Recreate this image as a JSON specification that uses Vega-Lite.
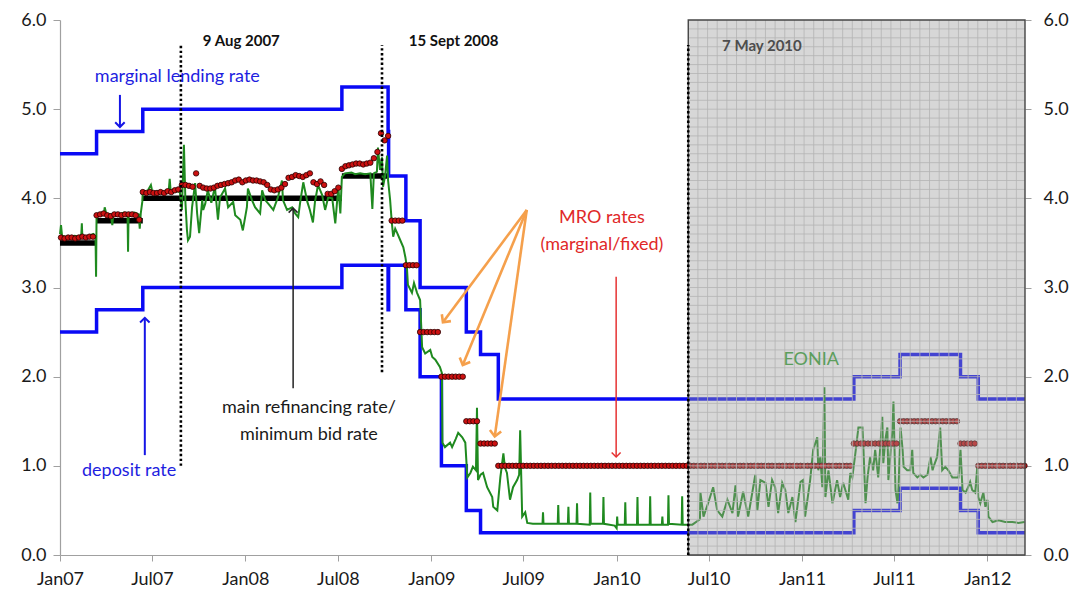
{
"$schema":"https://vega.github.io/schema/vega-lite/v6.json",
"width":965,"height":535,
"autosize":{"type":"none"},
"padding":{"left":60,"top":20,"right":55,"bottom":37},
"background":"white",
"config":{"font":"Lato","view":{"stroke":null},"axis":{"labelFont":"Lato","grid":false}},
"datasets":{
"mroline":[{"s":"2007-01-01","e":"2007-03-14","r":3.5},{"s":"2007-03-14","e":"2007-06-13","r":3.75},{"s":"2007-06-13","e":"2008-07-09","r":4.0},{"s":"2008-07-09","e":"2008-10-08","r":4.25}],
"rates":[
{"s":"mlf","d":"2007-01-01","v":4.5},{"s":"mlf","d":"2007-03-14","v":4.75},{"s":"mlf","d":"2007-06-13","v":5.0},{"s":"mlf","d":"2008-07-09","v":5.25},{"s":"mlf","d":"2008-10-08","v":4.75},{"s":"mlf","d":"2008-10-09","v":4.25},{"s":"mlf","d":"2008-11-12","v":3.75},{"s":"mlf","d":"2008-12-10","v":3.0},{"s":"mlf","d":"2009-03-11","v":2.5},{"s":"mlf","d":"2009-04-08","v":2.25},{"s":"mlf","d":"2009-05-13","v":1.75},{"s":"mlf","d":"2011-04-13","v":2.0},{"s":"mlf","d":"2011-07-13","v":2.25},{"s":"mlf","d":"2011-11-09","v":2.0},{"s":"mlf","d":"2011-12-14","v":1.75},{"s":"mlf","d":"2012-03-15","v":1.75},
{"s":"df","d":"2007-01-01","v":2.5},{"s":"df","d":"2007-03-14","v":2.75},{"s":"df","d":"2007-06-13","v":3.0},{"s":"df","d":"2008-07-09","v":3.25},{"s":"df","d":"2008-10-08","v":2.75},{"s":"df","d":"2008-10-09","v":3.25},{"s":"df","d":"2008-11-12","v":2.75},{"s":"df","d":"2008-12-10","v":2.0},{"s":"df","d":"2009-01-21","v":1.0},{"s":"df","d":"2009-03-11","v":0.5},{"s":"df","d":"2009-04-08","v":0.25},{"s":"df","d":"2011-04-13","v":0.5},{"s":"df","d":"2011-07-13","v":0.75},{"s":"df","d":"2011-11-09","v":0.5},{"s":"df","d":"2011-12-14","v":0.25},{"s":"df","d":"2012-03-15","v":0.25}],
"eonia":[
{"d":"2007-01-01","v":3.6},{"d":"2007-01-03","v":3.7},{"d":"2007-01-05","v":3.58},{"d":"2007-01-15","v":3.56},{"d":"2007-01-30","v":3.58},{"d":"2007-02-08","v":3.57},{"d":"2007-02-12","v":3.6},{"d":"2007-02-13","v":3.72},{"d":"2007-02-14","v":3.57},{"d":"2007-02-26","v":3.58},{"d":"2007-03-08","v":3.6},{"d":"2007-03-12","v":3.55},{"d":"2007-03-13","v":3.12},{"d":"2007-03-14","v":3.82},{"d":"2007-03-22","v":3.83},{"d":"2007-03-29","v":3.85},{"d":"2007-03-30","v":3.9},{"d":"2007-04-02","v":3.83},{"d":"2007-04-11","v":3.82},{"d":"2007-04-14","v":3.7},{"d":"2007-04-16","v":3.83},{"d":"2007-04-26","v":3.82},{"d":"2007-05-07","v":3.84},{"d":"2007-05-14","v":3.82},{"d":"2007-05-15","v":3.4},{"d":"2007-05-16","v":3.83},{"d":"2007-05-28","v":3.84},{"d":"2007-06-05","v":3.82},{"d":"2007-06-07","v":3.66},{"d":"2007-06-09","v":3.83},{"d":"2007-06-12","v":3.96},{"d":"2007-06-13","v":4.07},{"d":"2007-06-22","v":4.08},{"d":"2007-06-29","v":4.15},{"d":"2007-07-02","v":4.07},{"d":"2007-07-15","v":4.08},{"d":"2007-07-25","v":4.07},{"d":"2007-08-03","v":4.08},{"d":"2007-08-05","v":4.22},{"d":"2007-08-07","v":4.07},{"d":"2007-08-20","v":4.08},{"d":"2007-08-25","v":4.07},{"d":"2007-08-29","v":3.87},{"d":"2007-09-02","v":4.6},{"d":"2007-09-05","v":3.95},{"d":"2007-09-08","v":3.64},{"d":"2007-09-10","v":3.53},{"d":"2007-09-14","v":3.57},{"d":"2007-09-18","v":3.9},{"d":"2007-09-24","v":4.17},{"d":"2007-09-28","v":3.83},{"d":"2007-10-02","v":3.61},{"d":"2007-10-08","v":3.98},{"d":"2007-10-10","v":3.87},{"d":"2007-10-14","v":3.94},{"d":"2007-10-19","v":4.09},{"d":"2007-10-26","v":3.95},{"d":"2007-11-02","v":4.13},{"d":"2007-11-08","v":3.76},{"d":"2007-11-12","v":4.01},{"d":"2007-11-22","v":4.11},{"d":"2007-11-28","v":3.9},{"d":"2007-12-08","v":3.96},{"d":"2007-12-12","v":3.81},{"d":"2007-12-22","v":3.76},{"d":"2007-12-27","v":3.64},{"d":"2008-01-04","v":3.9},{"d":"2008-01-06","v":4.11},{"d":"2008-01-14","v":3.98},{"d":"2008-01-20","v":3.9},{"d":"2008-01-30","v":3.83},{"d":"2008-02-03","v":4.09},{"d":"2008-02-09","v":3.98},{"d":"2008-02-15","v":3.94},{"d":"2008-02-25","v":3.87},{"d":"2008-03-05","v":4.01},{"d":"2008-03-13","v":4.2},{"d":"2008-03-15","v":3.98},{"d":"2008-03-23","v":3.87},{"d":"2008-04-02","v":3.9},{"d":"2008-04-08","v":3.83},{"d":"2008-04-14","v":3.79},{"d":"2008-04-18","v":3.96},{"d":"2008-04-24","v":4.18},{"d":"2008-05-02","v":3.96},{"d":"2008-05-07","v":3.87},{"d":"2008-05-13","v":3.73},{"d":"2008-05-17","v":3.96},{"d":"2008-05-23","v":4.15},{"d":"2008-05-31","v":4.04},{"d":"2008-06-06","v":3.87},{"d":"2008-06-12","v":4.01},{"d":"2008-06-20","v":4.0},{"d":"2008-06-26","v":3.72},{"d":"2008-07-02","v":4.13},{"d":"2008-07-06","v":3.83},{"d":"2008-07-09","v":4.24},{"d":"2008-07-15","v":4.28},{"d":"2008-07-28","v":4.29},{"d":"2008-08-04","v":4.27},{"d":"2008-08-14","v":4.28},{"d":"2008-08-24","v":4.27},{"d":"2008-09-03","v":4.28},{"d":"2008-09-07","v":3.88},{"d":"2008-09-10","v":4.28},{"d":"2008-09-16","v":4.3},{"d":"2008-09-18","v":4.57},{"d":"2008-09-22","v":4.32},{"d":"2008-09-26","v":4.46},{"d":"2008-09-28","v":4.13},{"d":"2008-10-02","v":4.25},{"d":"2008-10-06","v":4.48},{"d":"2008-10-08","v":4.2},{"d":"2008-10-12","v":3.98},{"d":"2008-10-15","v":3.75},{"d":"2008-10-18","v":3.57},{"d":"2008-10-22","v":3.66},{"d":"2008-10-26","v":3.61},{"d":"2008-11-01","v":3.53},{"d":"2008-11-07","v":3.45},{"d":"2008-11-11","v":3.34},{"d":"2008-11-14","v":3.23},{"d":"2008-11-16","v":3.03},{"d":"2008-11-24","v":2.94},{"d":"2008-11-28","v":3.05},{"d":"2008-12-04","v":2.94},{"d":"2008-12-10","v":2.86},{"d":"2008-12-14","v":2.33},{"d":"2008-12-20","v":2.26},{"d":"2008-12-30","v":2.3},{"d":"2009-01-03","v":2.22},{"d":"2009-01-09","v":2.19},{"d":"2009-01-18","v":2.11},{"d":"2009-01-22","v":2.04},{"d":"2009-01-23","v":1.26},{"d":"2009-01-28","v":1.21},{"d":"2009-02-07","v":1.26},{"d":"2009-02-11","v":1.21},{"d":"2009-02-18","v":1.3},{"d":"2009-02-23","v":1.37},{"d":"2009-03-03","v":1.32},{"d":"2009-03-09","v":1.26},{"d":"2009-03-13","v":0.87},{"d":"2009-03-19","v":0.92},{"d":"2009-03-24","v":0.99},{"d":"2009-03-30","v":0.95},{"d":"2009-04-01","v":1.65},{"d":"2009-04-03","v":0.84},{"d":"2009-04-08","v":0.9},{"d":"2009-04-13","v":0.92},{"d":"2009-04-21","v":0.76},{"d":"2009-05-01","v":0.65},{"d":"2009-05-03","v":0.54},{"d":"2009-05-11","v":0.5},{"d":"2009-05-17","v":0.87},{"d":"2009-05-23","v":1.14},{"d":"2009-05-26","v":0.98},{"d":"2009-05-30","v":0.92},{"d":"2009-06-05","v":0.62},{"d":"2009-06-11","v":0.76},{"d":"2009-06-19","v":0.84},{"d":"2009-06-23","v":0.9},{"d":"2009-06-25","v":1.4},{"d":"2009-06-29","v":0.43},{"d":"2009-07-05","v":0.48},{"d":"2009-07-09","v":0.36},{"d":"2009-07-20","v":0.35},{"d":"2009-08-08","v":0.35},{"d":"2009-08-09","v":0.48},{"d":"2009-08-10","v":0.35},{"d":"2009-09-07","v":0.35},{"d":"2009-09-08","v":0.56},{"d":"2009-09-09","v":0.35},{"d":"2009-09-27","v":0.35},{"d":"2009-09-28","v":0.54},{"d":"2009-09-29","v":0.35},{"d":"2009-10-14","v":0.35},{"d":"2009-10-15","v":0.58},{"d":"2009-10-16","v":0.35},{"d":"2009-11-09","v":0.34},{"d":"2009-11-10","v":0.7},{"d":"2009-11-11","v":0.35},{"d":"2009-12-05","v":0.35},{"d":"2009-12-06","v":0.65},{"d":"2009-12-07","v":0.35},{"d":"2009-12-28","v":0.33},{"d":"2010-01-01","v":0.3},{"d":"2010-01-02","v":0.43},{"d":"2010-01-03","v":0.34},{"d":"2010-01-17","v":0.34},{"d":"2010-01-18","v":0.59},{"d":"2010-01-19","v":0.34},{"d":"2010-02-10","v":0.34},{"d":"2010-02-11","v":0.65},{"d":"2010-02-12","v":0.34},{"d":"2010-03-07","v":0.34},{"d":"2010-03-08","v":0.66},{"d":"2010-03-09","v":0.34},{"d":"2010-03-31","v":0.34},{"d":"2010-04-01","v":0.43},{"d":"2010-04-02","v":0.34},{"d":"2010-04-12","v":0.34},{"d":"2010-04-13","v":0.67},{"d":"2010-04-14","v":0.35},{"d":"2010-05-09","v":0.34},{"d":"2010-05-10","v":0.66},{"d":"2010-05-11","v":0.34},{"d":"2010-05-30","v":0.34},{"d":"2010-06-14","v":0.4},{"d":"2010-06-15","v":0.7},{"d":"2010-06-21","v":0.43},{"d":"2010-06-30","v":0.58},{"d":"2010-07-10","v":0.76},{"d":"2010-07-18","v":0.5},{"d":"2010-07-28","v":0.43},{"d":"2010-08-07","v":0.62},{"d":"2010-08-17","v":0.47},{"d":"2010-08-23","v":0.78},{"d":"2010-08-28","v":0.43},{"d":"2010-09-07","v":0.71},{"d":"2010-09-17","v":0.43},{"d":"2010-10-01","v":0.9},{"d":"2010-10-05","v":0.5},{"d":"2010-10-11","v":0.84},{"d":"2010-10-21","v":0.81},{"d":"2010-10-27","v":0.54},{"d":"2010-11-03","v":0.84},{"d":"2010-11-09","v":0.76},{"d":"2010-11-15","v":0.47},{"d":"2010-11-23","v":0.81},{"d":"2010-11-29","v":0.73},{"d":"2010-12-05","v":0.47},{"d":"2010-12-13","v":0.65},{"d":"2010-12-19","v":0.37},{"d":"2010-12-29","v":0.82},{"d":"2011-01-03","v":0.84},{"d":"2011-01-07","v":0.43},{"d":"2011-01-17","v":0.84},{"d":"2011-01-23","v":1.18},{"d":"2011-01-31","v":1.32},{"d":"2011-02-02","v":0.95},{"d":"2011-02-06","v":1.1},{"d":"2011-02-10","v":0.76},{"d":"2011-02-14","v":1.88},{"d":"2011-02-16","v":0.65},{"d":"2011-02-22","v":0.95},{"d":"2011-03-02","v":0.58},{"d":"2011-03-11","v":0.84},{"d":"2011-03-17","v":0.65},{"d":"2011-03-23","v":0.81},{"d":"2011-04-02","v":0.62},{"d":"2011-04-06","v":0.92},{"d":"2011-04-10","v":0.87},{"d":"2011-04-16","v":1.14},{"d":"2011-04-22","v":1.43},{"d":"2011-04-30","v":1.43},{"d":"2011-05-02","v":1.18},{"d":"2011-05-06","v":0.58},{"d":"2011-05-10","v":0.87},{"d":"2011-05-15","v":1.1},{"d":"2011-05-21","v":0.95},{"d":"2011-05-25","v":1.18},{"d":"2011-05-31","v":0.87},{"d":"2011-06-08","v":1.55},{"d":"2011-06-10","v":1.03},{"d":"2011-06-14","v":1.29},{"d":"2011-06-18","v":1.43},{"d":"2011-06-20","v":0.84},{"d":"2011-06-28","v":1.4},{"d":"2011-06-30","v":1.72},{"d":"2011-07-04","v":0.73},{"d":"2011-07-08","v":0.58},{"d":"2011-07-10","v":0.76},{"d":"2011-07-14","v":1.43},{"d":"2011-07-18","v":1.18},{"d":"2011-07-20","v":0.99},{"d":"2011-07-27","v":0.95},{"d":"2011-08-02","v":0.95},{"d":"2011-08-06","v":1.18},{"d":"2011-08-08","v":0.92},{"d":"2011-08-16","v":0.87},{"d":"2011-08-22","v":0.9},{"d":"2011-08-28","v":0.87},{"d":"2011-09-05","v":0.9},{"d":"2011-09-11","v":1.1},{"d":"2011-09-15","v":0.95},{"d":"2011-09-17","v":0.99},{"d":"2011-09-24","v":1.1},{"d":"2011-09-30","v":1.43},{"d":"2011-10-04","v":0.95},{"d":"2011-10-10","v":0.99},{"d":"2011-10-16","v":0.95},{"d":"2011-10-24","v":0.87},{"d":"2011-10-30","v":0.87},{"d":"2011-11-05","v":0.87},{"d":"2011-11-09","v":1.18},{"d":"2011-11-13","v":0.73},{"d":"2011-11-19","v":0.7},{"d":"2011-11-24","v":0.76},{"d":"2011-11-28","v":0.82},{"d":"2011-12-02","v":0.73},{"d":"2011-12-08","v":0.7},{"d":"2011-12-12","v":0.99},{"d":"2011-12-14","v":0.65},{"d":"2011-12-18","v":0.58},{"d":"2011-12-24","v":0.7},{"d":"2011-12-28","v":0.54},{"d":"2012-01-01","v":0.62},{"d":"2012-01-03","v":0.43},{"d":"2012-01-11","v":0.37},{"d":"2012-01-23","v":0.39},{"d":"2012-02-05","v":0.37},{"d":"2012-02-19","v":0.37},{"d":"2012-03-02","v":0.36},{"d":"2012-03-14","v":0.37}],
"mro":[
{"d":"2007-01-03","r":3.56},{"d":"2007-01-10","r":3.55},{"d":"2007-01-17","r":3.56},{"d":"2007-01-24","r":3.56},{"d":"2007-01-31","r":3.55},{"d":"2007-02-07","r":3.56},{"d":"2007-02-14","r":3.57},{"d":"2007-02-21","r":3.56},{"d":"2007-02-28","r":3.57},{"d":"2007-03-07","r":3.57},{"d":"2007-03-14","r":3.81},{"d":"2007-03-21","r":3.82},{"d":"2007-03-28","r":3.83},{"d":"2007-04-04","r":3.81},{"d":"2007-04-11","r":3.8},{"d":"2007-04-18","r":3.82},{"d":"2007-04-25","r":3.82},{"d":"2007-05-02","r":3.81},{"d":"2007-05-09","r":3.82},{"d":"2007-05-16","r":3.82},{"d":"2007-05-23","r":3.82},{"d":"2007-05-30","r":3.81},{"d":"2007-06-06","r":3.76},{"d":"2007-06-13","r":4.07},{"d":"2007-06-20","r":4.06},{"d":"2007-06-27","r":4.07},{"d":"2007-07-04","r":4.06},{"d":"2007-07-11","r":4.06},{"d":"2007-07-18","r":4.07},{"d":"2007-07-25","r":4.06},{"d":"2007-08-01","r":4.08},{"d":"2007-08-08","r":4.07},{"d":"2007-08-15","r":4.09},{"d":"2007-08-22","r":4.1},{"d":"2007-08-29","r":4.15},{"d":"2007-09-05","r":4.15},{"d":"2007-09-12","r":4.14},{"d":"2007-09-19","r":4.13},{"d":"2007-09-26","r":4.28},{"d":"2007-10-03","r":4.14},{"d":"2007-10-10","r":4.12},{"d":"2007-10-17","r":4.11},{"d":"2007-10-24","r":4.11},{"d":"2007-10-31","r":4.12},{"d":"2007-11-07","r":4.14},{"d":"2007-11-14","r":4.15},{"d":"2007-11-21","r":4.16},{"d":"2007-11-28","r":4.17},{"d":"2007-12-05","r":4.18},{"d":"2007-12-12","r":4.2},{"d":"2007-12-19","r":4.21},{"d":"2007-12-26","r":4.18},
{"d":"2008-01-02","r":4.2},{"d":"2008-01-09","r":4.21},{"d":"2008-01-16","r":4.2},{"d":"2008-01-23","r":4.2},{"d":"2008-01-30","r":4.19},{"d":"2008-02-06","r":4.18},{"d":"2008-02-13","r":4.15},{"d":"2008-02-20","r":4.1},{"d":"2008-02-27","r":4.09},{"d":"2008-03-05","r":4.1},{"d":"2008-03-12","r":4.12},{"d":"2008-03-19","r":4.16},{"d":"2008-03-26","r":4.23},{"d":"2008-04-02","r":4.24},{"d":"2008-04-09","r":4.26},{"d":"2008-04-16","r":4.25},{"d":"2008-04-23","r":4.24},{"d":"2008-04-30","r":4.26},{"d":"2008-05-07","r":4.28},{"d":"2008-05-14","r":4.18},{"d":"2008-05-21","r":4.16},{"d":"2008-05-28","r":4.19},{"d":"2008-06-04","r":4.15},{"d":"2008-06-11","r":4.05},{"d":"2008-06-18","r":4.05},{"d":"2008-06-25","r":4.08},{"d":"2008-07-02","r":4.12},{"d":"2008-07-09","r":4.33},{"d":"2008-07-16","r":4.36},{"d":"2008-07-23","r":4.37},{"d":"2008-07-30","r":4.38},{"d":"2008-08-06","r":4.39},{"d":"2008-08-13","r":4.39},{"d":"2008-08-20","r":4.38},{"d":"2008-08-27","r":4.39},{"d":"2008-09-03","r":4.4},{"d":"2008-09-10","r":4.45},{"d":"2008-09-17","r":4.52},{"d":"2008-09-24","r":4.73},{"d":"2008-10-01","r":4.65},{"d":"2008-10-08","r":4.7},{"d":"2008-10-15","r":3.75},{"d":"2008-10-22","r":3.75},{"d":"2008-10-29","r":3.75},{"d":"2008-11-05","r":3.75},{"d":"2008-11-12","r":3.25},{"d":"2008-11-19","r":3.25},{"d":"2008-11-26","r":3.25},{"d":"2008-12-03","r":3.25},{"d":"2008-12-10","r":2.5},{"d":"2008-12-17","r":2.5},{"d":"2008-12-24","r":2.5},{"d":"2008-12-31","r":2.5},
{"d":"2009-01-07","r":2.5},{"d":"2009-01-14","r":2.5},{"d":"2009-01-21","r":2.0},{"d":"2009-01-28","r":2.0},{"d":"2009-02-04","r":2.0},{"d":"2009-02-11","r":2.0},{"d":"2009-02-18","r":2.0},{"d":"2009-02-25","r":2.0},{"d":"2009-03-04","r":2.0},{"d":"2009-03-11","r":1.5},{"d":"2009-03-18","r":1.5},{"d":"2009-03-25","r":1.5},{"d":"2009-04-01","r":1.5},{"d":"2009-04-08","r":1.25},{"d":"2009-04-15","r":1.25},{"d":"2009-04-22","r":1.25},{"d":"2009-04-29","r":1.25},{"d":"2009-05-06","r":1.25},{"d":"2009-05-13","r":1},{"d":"2009-05-20","r":1},{"d":"2009-05-27","r":1},{"d":"2009-06-03","r":1},{"d":"2009-06-10","r":1},{"d":"2009-06-17","r":1},{"d":"2009-06-24","r":1},{"d":"2009-07-01","r":1},{"d":"2009-07-08","r":1},{"d":"2009-07-15","r":1},{"d":"2009-07-22","r":1},{"d":"2009-07-29","r":1},{"d":"2009-08-05","r":1},{"d":"2009-08-12","r":1},{"d":"2009-08-19","r":1},{"d":"2009-08-26","r":1},{"d":"2009-09-02","r":1},{"d":"2009-09-09","r":1},{"d":"2009-09-16","r":1},{"d":"2009-09-23","r":1},{"d":"2009-09-30","r":1},{"d":"2009-10-07","r":1},{"d":"2009-10-14","r":1},{"d":"2009-10-21","r":1},{"d":"2009-10-28","r":1},{"d":"2009-11-04","r":1},{"d":"2009-11-11","r":1},{"d":"2009-11-18","r":1},{"d":"2009-11-25","r":1},{"d":"2009-12-02","r":1},{"d":"2009-12-09","r":1},{"d":"2009-12-16","r":1},{"d":"2009-12-23","r":1},{"d":"2009-12-30","r":1},
{"d":"2010-01-06","r":1},{"d":"2010-01-13","r":1},{"d":"2010-01-20","r":1},{"d":"2010-01-27","r":1},{"d":"2010-02-03","r":1},{"d":"2010-02-10","r":1},{"d":"2010-02-17","r":1},{"d":"2010-02-24","r":1},{"d":"2010-03-03","r":1},{"d":"2010-03-10","r":1},{"d":"2010-03-17","r":1},{"d":"2010-03-24","r":1},{"d":"2010-03-31","r":1},{"d":"2010-04-07","r":1},{"d":"2010-04-14","r":1},{"d":"2010-04-21","r":1},{"d":"2010-04-28","r":1},{"d":"2010-05-05","r":1},{"d":"2010-05-12","r":1},{"d":"2010-05-19","r":1},{"d":"2010-05-26","r":1},{"d":"2010-06-02","r":1},{"d":"2010-06-09","r":1},{"d":"2010-06-16","r":1},{"d":"2010-06-23","r":1},{"d":"2010-06-30","r":1},{"d":"2010-07-07","r":1},{"d":"2010-07-14","r":1},{"d":"2010-07-21","r":1},{"d":"2010-07-28","r":1},{"d":"2010-08-04","r":1},{"d":"2010-08-11","r":1},{"d":"2010-08-18","r":1},{"d":"2010-08-25","r":1},{"d":"2010-09-01","r":1},{"d":"2010-09-08","r":1},{"d":"2010-09-15","r":1},{"d":"2010-09-22","r":1},{"d":"2010-09-29","r":1},{"d":"2010-10-06","r":1},{"d":"2010-10-13","r":1},{"d":"2010-10-20","r":1},{"d":"2010-10-27","r":1},{"d":"2010-11-03","r":1},{"d":"2010-11-10","r":1},{"d":"2010-11-17","r":1},{"d":"2010-11-24","r":1},{"d":"2010-12-01","r":1},{"d":"2010-12-08","r":1},{"d":"2010-12-15","r":1},{"d":"2010-12-22","r":1},{"d":"2010-12-29","r":1},
{"d":"2011-01-05","r":1},{"d":"2011-01-12","r":1},{"d":"2011-01-19","r":1},{"d":"2011-01-26","r":1},{"d":"2011-02-02","r":1},{"d":"2011-02-09","r":1},{"d":"2011-02-16","r":1},{"d":"2011-02-23","r":1},{"d":"2011-03-02","r":1},{"d":"2011-03-09","r":1},{"d":"2011-03-16","r":1},{"d":"2011-03-23","r":1},{"d":"2011-03-30","r":1},{"d":"2011-04-06","r":1},{"d":"2011-04-13","r":1.25},{"d":"2011-04-20","r":1.25},{"d":"2011-04-27","r":1.25},{"d":"2011-05-04","r":1.25},{"d":"2011-05-11","r":1.25},{"d":"2011-05-18","r":1.25},{"d":"2011-05-25","r":1.25},{"d":"2011-06-01","r":1.25},{"d":"2011-06-08","r":1.25},{"d":"2011-06-15","r":1.25},{"d":"2011-06-22","r":1.25},{"d":"2011-06-29","r":1.25},{"d":"2011-07-06","r":1.25},{"d":"2011-07-13","r":1.5},{"d":"2011-07-20","r":1.5},{"d":"2011-07-27","r":1.5},{"d":"2011-08-03","r":1.5},{"d":"2011-08-10","r":1.5},{"d":"2011-08-17","r":1.5},{"d":"2011-08-24","r":1.5},{"d":"2011-08-31","r":1.5},{"d":"2011-09-07","r":1.5},{"d":"2011-09-14","r":1.5},{"d":"2011-09-21","r":1.5},{"d":"2011-09-28","r":1.5},{"d":"2011-10-05","r":1.5},{"d":"2011-10-12","r":1.5},{"d":"2011-10-19","r":1.5},{"d":"2011-10-26","r":1.5},{"d":"2011-11-02","r":1.5},{"d":"2011-11-09","r":1.25},{"d":"2011-11-16","r":1.25},{"d":"2011-11-23","r":1.25},{"d":"2011-11-30","r":1.25},{"d":"2011-12-07","r":1.25},{"d":"2011-12-14","r":1},{"d":"2011-12-21","r":1},{"d":"2011-12-28","r":1},{"d":"2012-01-04","r":1},{"d":"2012-01-11","r":1},{"d":"2012-01-18","r":1},{"d":"2012-01-25","r":1},{"d":"2012-02-01","r":1},{"d":"2012-02-08","r":1},{"d":"2012-02-15","r":1},{"d":"2012-02-22","r":1},{"d":"2012-02-29","r":1},{"d":"2012-03-07","r":1},{"d":"2012-03-14","r":1}],
"shade":[{"s":"2010-05-22","e":"2012-03-15"}],
"gridv":[{"d":"2010-06-10"},{"d":"2010-06-29"},{"d":"2010-07-18"},{"d":"2010-08-06"},{"d":"2010-08-25"},{"d":"2010-09-13"},{"d":"2010-10-02"},{"d":"2010-10-21"},{"d":"2010-11-09"},{"d":"2010-11-28"},{"d":"2010-12-17"},{"d":"2011-01-05"},{"d":"2011-01-24"},{"d":"2011-02-12"},{"d":"2011-03-03"},{"d":"2011-03-22"},{"d":"2011-04-10"},{"d":"2011-04-29"},{"d":"2011-05-18"},{"d":"2011-06-06"},{"d":"2011-06-25"},{"d":"2011-07-14"},{"d":"2011-08-02"},{"d":"2011-08-21"},{"d":"2011-09-09"},{"d":"2011-09-28"},{"d":"2011-10-17"},{"d":"2011-11-05"},{"d":"2011-11-24"},{"d":"2011-12-13"},{"d":"2012-01-01"},{"d":"2012-01-20"},{"d":"2012-02-08"},{"d":"2012-02-27"}],
"gridh":[{"v":0.1},{"v":0.2},{"v":0.3},{"v":0.4},{"v":0.5},{"v":0.6},{"v":0.7},{"v":0.8},{"v":0.9},{"v":1.0},{"v":1.1},{"v":1.2},{"v":1.3},{"v":1.4},{"v":1.5},{"v":1.6},{"v":1.7},{"v":1.8},{"v":1.9},{"v":2.0},{"v":2.1},{"v":2.2},{"v":2.3},{"v":2.4},{"v":2.5},{"v":2.6},{"v":2.7},{"v":2.8},{"v":2.9},{"v":3.0},{"v":3.1},{"v":3.2},{"v":3.3},{"v":3.4},{"v":3.5},{"v":3.6},{"v":3.7},{"v":3.8},{"v":3.9},{"v":4.0},{"v":4.1},{"v":4.2},{"v":4.3},{"v":4.4},{"v":4.5},{"v":4.6},{"v":4.7},{"v":4.8},{"v":4.9},{"v":5.0},{"v":5.1},{"v":5.2},{"v":5.3},{"v":5.4},{"v":5.5},{"v":5.6},{"v":5.7},{"v":5.8},{"v":5.9}],
"events":[{"d":"2007-08-27","a":1.0,"b":5.72},{"d":"2008-09-26","a":2.05,"b":5.72},{"d":"2010-05-22","a":0,"b":5.72}],
"varrows":[{"id":"mlf","d":"2007-04-29","from":5.16,"to":4.8},{"id":"df","d":"2007-06-17","from":1.12,"to":2.66},{"id":"mro","d":"2008-04-04","from":1.87,"to":3.89},{"id":"red","d":"2009-12-31","from":3.12,"to":1.1}],
"oarrows":[{"id":"a1","d1":"2009-07-08","v1":3.87,"d2":"2009-01-24","v2":2.61},{"id":"a2","d1":"2009-07-08","v1":3.87,"d2":"2009-03-04","v2":2.13},{"id":"a3","d1":"2009-07-08","v1":3.87,"d2":"2009-05-06","v2":1.33}],
"labels":[{"g":"blue","d":"2007-08-20","v":5.36,"t":"marginal lending rate"},{"g":"blue","d":"2007-05-17","v":0.94,"t":"deposit rate"},{"g":"black","d":"2008-05-05","v":1.65,"t":"main refinancing rate/"},{"g":"black","d":"2008-05-05","v":1.35,"t":"minimum bid rate"},{"g":"red","d":"2009-12-03","v":3.78,"t":"MRO rates"},{"g":"red","d":"2009-12-03","v":3.48,"t":"(marginal/fixed)"},{"g":"green","d":"2011-01-19","v":2.19,"t":"EONIA"},{"g":"event","d":"2007-12-24","v":5.77,"t":"9 Aug 2007"},{"g":"event","d":"2009-02-14","v":5.77,"t":"15 Sept 2008"},{"g":"event2","d":"2010-10-14","v":5.71,"t":"7 May 2010"}]
},
"resolve":{"scale":{"y":"shared","x":"shared"},"axis":{"y":"independent","x":"independent"}},
"layer":[
{"data":{"name":"mroline"},"mark":{"type":"rule","color":"#000000","strokeWidth":5.5},
 "encoding":{"x":{"field":"s","type":"temporal","scale":{"type":"utc","nice":false,"domain":[{"year":2007,"month":1,"date":1,"utc":true},{"year":2012,"month":3,"date":15,"utc":true}]},"axis":{"title":null,"tickCount":{"interval":"month","step":6},"format":"%b%y","labelFontSize":18,"labelColor":"#1a1a1a","tickSize":6,"tickColor":"#a0a0a0","domainColor":"#a0a0a0","domainWidth":1.2,"labelPadding":9,"labelFlush":false,"labelOverlap":false}},
  "x2":{"field":"e"},
  "y":{"field":"r","type":"quantitative","scale":{"domain":[0,6],"nice":false},"axis":{"title":null,"orient":"left","values":[0,1,2,3,4,5,6],"format":".1f","labelFontSize":18,"labelColor":"#1a1a1a","tickSize":7,"tickColor":"#a0a0a0","domainColor":"#a0a0a0","domainWidth":1.2,"labelPadding":7}}}},
{"data":{"name":"rates"},"mark":{"type":"line","interpolate":"step-after","color":"#0a0af5","strokeWidth":3.5},
 "encoding":{"x":{"field":"d","type":"temporal","axis":null},"y":{"field":"v","type":"quantitative","axis":{"title":null,"orient":"right","values":[0,1,2,3,4,5,6],"format":".1f","labelFontSize":18,"labelColor":"#1a1a1a","tickSize":6,"tickColor":"#a0a0a0","domain":false,"labelPadding":12}},"detail":{"field":"s"}}},
{"data":{"name":"eonia"},"mark":{"type":"line","color":"#1f8a1f","strokeWidth":2},
 "encoding":{"x":{"field":"d","type":"temporal","axis":null},"y":{"field":"v","type":"quantitative","axis":null}}},
{"data":{"name":"mro"},"mark":{"type":"point","filled":true,"fill":"#cc1111","stroke":"#2a0000","strokeWidth":0.8,"size":30,"opacity":1},
 "encoding":{"x":{"field":"d","type":"temporal","axis":null},"y":{"field":"r","type":"quantitative","axis":null}}},
{"data":{"name":"shade"},"mark":{"type":"rect","fill":"#9a9a9a","opacity":0.4},
 "encoding":{"x":{"field":"s","type":"temporal","axis":null},"x2":{"field":"e"},"y":{"datum":0,"type":"quantitative","axis":null},"y2":{"datum":6}}},
{"data":{"name":"gridv"},"mark":{"type":"rule","color":"#b4b4b4","strokeWidth":0.8},
 "encoding":{"x":{"field":"d","type":"temporal","axis":null},"y":{"datum":0,"type":"quantitative","axis":null},"y2":{"datum":6}}},
{"data":{"name":"gridh"},"mark":{"type":"rule","color":"#b4b4b4","strokeWidth":0.8},
 "encoding":{"x":{"datum":{"year":2010,"month":5,"date":22,"utc":true},"type":"temporal","axis":null},"x2":{"datum":{"year":2012,"month":3,"date":15,"utc":true}},"y":{"field":"v","type":"quantitative","axis":null}}},
{"data":{"name":"shade"},"mark":{"type":"rect","fillOpacity":0,"stroke":"#454545","strokeWidth":1.4},
 "encoding":{"x":{"field":"s","type":"temporal","axis":null},"x2":{"field":"e"},"y":{"datum":0,"type":"quantitative","axis":null},"y2":{"datum":6}}},
{"data":{"name":"events"},"mark":{"type":"rule","color":"#000000","strokeWidth":2.6,"strokeDash":[2.4,2.4]},
 "encoding":{"x":{"field":"d","type":"temporal","axis":null},"y":{"field":"a","type":"quantitative","axis":null},"y2":{"field":"b"}}},
{"data":{"name":"varrows"},"transform":[{"filter":"datum.id === 'mlf' || datum.id === 'df'"}],"mark":{"type":"rule","color":"#1515e6","strokeWidth":2},
 "encoding":{"x":{"field":"d","type":"temporal","axis":null},"y":{"field":"from","type":"quantitative","axis":null},"y2":{"field":"to"}}},
{"data":{"name":"varrows"},"transform":[{"filter":"datum.id === 'mro'"}],"mark":{"type":"rule","color":"#222222","strokeWidth":1.5},
 "encoding":{"x":{"field":"d","type":"temporal","axis":null},"y":{"field":"from","type":"quantitative","axis":null},"y2":{"field":"to"}}},
{"data":{"name":"varrows"},"transform":[{"filter":"datum.id === 'red'"}],"mark":{"type":"rule","color":"#e63232","strokeWidth":1.5},
 "encoding":{"x":{"field":"d","type":"temporal","axis":null},"y":{"field":"from","type":"quantitative","axis":null},"y2":{"field":"to"}}},
{"data":{"name":"varrows"},"transform":[{"filter":"datum.id === 'mlf'"}],"mark":{"type":"point","shape":"M-1,-1L0,0L1,-1","filled":false,"stroke":"#1515e6","strokeWidth":2,"size":90,"opacity":1},
 "encoding":{"x":{"field":"d","type":"temporal","axis":null},"y":{"field":"to","type":"quantitative","axis":null}}},
{"data":{"name":"varrows"},"transform":[{"filter":"datum.id === 'df'"}],"mark":{"type":"point","shape":"M-1,1L0,0L1,1","filled":false,"stroke":"#1515e6","strokeWidth":2,"size":90,"opacity":1},
 "encoding":{"x":{"field":"d","type":"temporal","axis":null},"y":{"field":"to","type":"quantitative","axis":null}}},
{"data":{"name":"varrows"},"transform":[{"filter":"datum.id === 'mro'"}],"mark":{"type":"point","shape":"M-1,1L0,0L1,1","filled":false,"stroke":"#222222","strokeWidth":1.5,"size":80,"opacity":1},
 "encoding":{"x":{"field":"d","type":"temporal","axis":null},"y":{"field":"to","type":"quantitative","axis":null}}},
{"data":{"name":"varrows"},"transform":[{"filter":"datum.id === 'red'"}],"mark":{"type":"point","shape":"M-1,-1L0,0L1,-1","filled":false,"stroke":"#e63232","strokeWidth":1.5,"size":80,"opacity":1},
 "encoding":{"x":{"field":"d","type":"temporal","axis":null},"y":{"field":"to","type":"quantitative","axis":null}}},
{"data":{"name":"oarrows"},"mark":{"type":"rule","color":"#f5a04c","strokeWidth":2.6},
 "encoding":{"x":{"field":"d1","type":"temporal","axis":null},"y":{"field":"v1","type":"quantitative","axis":null},"x2":{"field":"d2"},"y2":{"field":"v2"}}},
{"data":{"name":"oarrows"},"transform":[{"filter":"datum.id === 'a1'"}],"mark":{"type":"point","shape":"M-1,1L0,0L1,1","angle":217,"filled":false,"stroke":"#f5a04c","strokeWidth":2.6,"size":130,"opacity":1},
 "encoding":{"x":{"field":"d2","type":"temporal","axis":null},"y":{"field":"v2","type":"quantitative","axis":null}}},
{"data":{"name":"oarrows"},"transform":[{"filter":"datum.id === 'a2'"}],"mark":{"type":"point","shape":"M-1,1L0,0L1,1","angle":203,"filled":false,"stroke":"#f5a04c","strokeWidth":2.6,"size":130,"opacity":1},
 "encoding":{"x":{"field":"d2","type":"temporal","axis":null},"y":{"field":"v2","type":"quantitative","axis":null}}},
{"data":{"name":"oarrows"},"transform":[{"filter":"datum.id === 'a3'"}],"mark":{"type":"point","shape":"M-1,1L0,0L1,1","angle":188,"filled":false,"stroke":"#f5a04c","strokeWidth":2.6,"size":130,"opacity":1},
 "encoding":{"x":{"field":"d2","type":"temporal","axis":null},"y":{"field":"v2","type":"quantitative","axis":null}}},
{"data":{"name":"labels"},"transform":[{"filter":"datum.g === 'blue'"}],"mark":{"type":"text","font":"Lato","fontSize":18,"color":"#1e1ee0","align":"center","baseline":"middle"},
 "encoding":{"x":{"field":"d","type":"temporal","axis":null},"y":{"field":"v","type":"quantitative","axis":null},"text":{"field":"t"}}},
{"data":{"name":"labels"},"transform":[{"filter":"datum.g === 'black'"}],"mark":{"type":"text","font":"Lato","fontSize":18,"color":"#1a1a1a","align":"center","baseline":"middle"},
 "encoding":{"x":{"field":"d","type":"temporal","axis":null},"y":{"field":"v","type":"quantitative","axis":null},"text":{"field":"t"}}},
{"data":{"name":"labels"},"transform":[{"filter":"datum.g === 'red'"}],"mark":{"type":"text","font":"Lato","fontSize":18,"color":"#e02828","align":"center","baseline":"middle"},
 "encoding":{"x":{"field":"d","type":"temporal","axis":null},"y":{"field":"v","type":"quantitative","axis":null},"text":{"field":"t"}}},
{"data":{"name":"labels"},"transform":[{"filter":"datum.g === 'green'"}],"mark":{"type":"text","font":"Lato","fontSize":18,"color":"#5c9e5c","align":"center","baseline":"middle"},
 "encoding":{"x":{"field":"d","type":"temporal","axis":null},"y":{"field":"v","type":"quantitative","axis":null},"text":{"field":"t"}}},
{"data":{"name":"labels"},"transform":[{"filter":"datum.g === 'event'"}],"mark":{"type":"text","font":"Lato","fontSize":15,"fontWeight":"bold","color":"#111111","align":"center","baseline":"middle"},
 "encoding":{"x":{"field":"d","type":"temporal","axis":null},"y":{"field":"v","type":"quantitative","axis":null},"text":{"field":"t"}}},
{"data":{"name":"labels"},"transform":[{"filter":"datum.g === 'event2'"}],"mark":{"type":"text","font":"Lato","fontSize":15,"fontWeight":"bold","color":"#4d4d4d","align":"center","baseline":"middle"},
 "encoding":{"x":{"field":"d","type":"temporal","axis":null},"y":{"field":"v","type":"quantitative","axis":null},"text":{"field":"t"}}}
]
}
